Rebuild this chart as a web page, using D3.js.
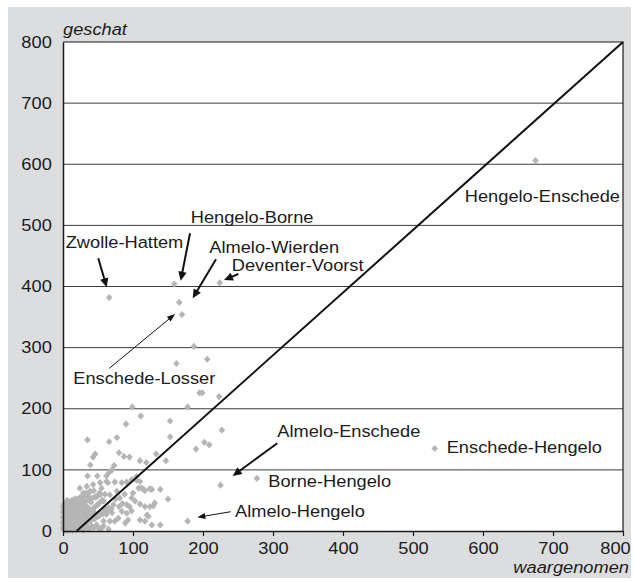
<!DOCTYPE html>
<html>
<head>
<meta charset="utf-8">
<script src="https://cdn.jsdelivr.net/npm/d3@7"></script>
<style>
  body { margin: 0; background: #ffffff; }
  svg { display: block; }
  text { font-family: "Liberation Sans", Arial, Helvetica, sans-serif; fill: #1b1b1b; }
</style>
</head>
<body>
<svg id="chart" width="634" height="581"></svg>
<script>
// Axis ticks (both axes run 0..800)
const xTicks = [0, 100, 200, 300, 400, 500, 600, 700, 800];
const yTicks = [0, 100, 200, 300, 400, 500, 600, 700, 800];

// Route pairs: observed (waargenomen) vs. estimated (geschat)
const observed = [
  187, 162, 206, 195, 199, 223, 178, 99, 111, 153, 90, 227, 153, 35, 66, 77, 202, 209, 190, 80,
  87, 95, 46, 43, 39, 110, 119, 133, 147, 70, 73, 66, 35, 49, 62,
  91, 98, 105, 110, 112, 117, 124, 115, 127, 139, 98, 103, 110, 117, 91, 84, 91, 98, 79, 74,
  89, 93, 124, 122, 110, 117, 127, 150, 131, 129, 139, 120,
  24, 34, 43, 29, 39, 53, 62, 55, 67, 77, 81, 72, 65, 58, 50, 43, 36, 29, 22, 15, 53, 46, 62,
  67, 58, 48, 41, 31, 24,
  64, 74, 84, 105, 108, 100, 88, 60, 47, 38, 30, 52, 75, 85, 95, 70, 80, 60, 55, 65, 35, 45,
  1, 2, 3, 4, 5, 6, 7, 8, 2, 4, 1, 3, 0, 2, 1, 5, 6, 7, 8, 9, 10, 11, 12, 13, 9, 10, 11, 12,
  13, 14, 15, 16, 17, 14, 15, 16, 17, 18, 19, 20, 21, 19, 20, 21, 22, 23, 24, 25, 26, 25, 26,
  27, 28, 30, 31, 32, 33, 3, 7, 11, 4, 10, 18, 27, 35, 40, 0, 0, 0, 0, 6, 22, 28, 32, 36, 38, 34,
  18, 22, 26, 30, 34, 38, 42, 46, 50, 54, 20, 24, 28, 32, 36, 40, 44, 48, 52, 56,
  16, 21, 27, 33, 39, 45, 51, 57, 63, 69, 23, 29, 35, 41, 47, 53, 59,
  12, 17, 23, 28, 33, 38, 44, 30, 37, 44, 51, 58
];
const estimated = [
  302, 274, 281, 226, 226, 220, 203, 203, 188, 180, 175, 165, 154, 149, 146, 153, 145, 141, 134, 128,
  122, 121, 126, 121, 108, 115, 112, 126, 115, 100, 107, 96, 90, 90, 90,
  80, 84, 89, 81, 70, 66, 69, 68, 68, 68, 54, 49, 44, 40, 43, 32, 29, 33, 21, 16,
  13, 18, 40, 24, 18, 16, 10, 52, 46, 41, 10, 26,
  70, 73, 76, 62, 65, 79, 81, 70, 59, 65, 54, 43, 38, 49, 43, 35, 38, 32, 29, 27, 27, 21, 27,
  16, 16, 10, 8, 10, 16,
  79, 80, 79, 83, 70, 62, 60, 60, 55, 52, 45, 62, 52, 45, 40, 30, 40, 35, 5, 3, 20, 30,
  2, 6, 12, 18, 25, 31, 37, 42, 44, 40, 35, 28, 22, 16, 10, 4, 9, 15, 21, 27, 33, 39, 45, 50, 3, 8, 14, 20,
  26, 32, 38, 44, 48, 1, 6, 12, 18, 24, 30, 36, 42, 2, 8, 14, 20, 25, 33, 40, 46, 5, 11,
  17, 22, 28, 36, 42, 50, 1, 1, 2, 47, 48, 52, 55, 58, 47, 5, 14, 30, 40, 50, 3, 2, 15, 25, 4, 8,
  34, 40, 44, 48, 50, 52, 54, 56, 58, 60, 12, 18, 22, 26, 30, 34, 38, 42, 46, 50,
  4, 6, 8, 12, 16, 20, 24, 28, 32, 36, 46, 50, 56, 28, 24, 30, 36,
  40, 52, 54, 58, 62, 64, 66, 2, 3, 5, 4, 8
];

// Named routes
const routeNames = [
  "Hengelo-Enschede", "Enschede-Hengelo", "Zwolle-Hattem", "Hengelo-Borne", "Almelo-Wierden",
  "Deventer-Voorst", "Enschede-Losser", "Almelo-Enschede", "Borne-Hengelo", "Almelo-Hengelo"
];
const routeObserved  = [675, 531, 66, 159, 166, 224, 170, 225, 277, 178];
const routeEstimated = [606, 135, 382, 404, 374, 406, 354, 75, 86, 16];

// Fitted line endpoints (data units)
const fitObserved  = [19.5, 800];
const fitEstimated = [0, 800];

// ---------------------------------------------------------------
const svg = d3.select("#chart");
const FS = 16.3;      // font size
const SX = 1.12;      // horizontal text stretch

const x = d3.scaleLinear().domain([0, 800]).range([63, 623]);
const y = d3.scaleLinear().domain([0, 800]).range([531, 42]);

// panel backgrounds
svg.append("rect").attr("x", 8).attr("y", 7).attr("width", 623).attr("height", 571).attr("fill", "#dcdddf");
svg.append("rect").attr("x", x(0)).attr("y", y(800)).attr("width", x(800) - x(0)).attr("height", y(0) - y(800)).attr("fill", "#ffffff");

// horizontal gridlines
svg.append("g").selectAll("line")
  .data(yTicks.filter(v => v > 0 && v < 800))
  .join("line")
  .attr("x1", x(0)).attr("x2", x(800))
  .attr("y1", d => y(d)).attr("y2", d => y(d))
  .attr("stroke", "#3c3c3c").attr("stroke-width", 1);

// top and right frame
svg.append("path")
  .attr("d", `M${x(0)},${y(800)}H${x(800)}V${y(0)}`)
  .attr("fill", "none").attr("stroke", "#1a1a1a").attr("stroke-width", 1.2);

// helper: stretched text
function label(g, px, py, txt, anchor, italic) {
  return g.append("text")
    .attr("transform", `translate(${px},${py}) scale(${SX},1)`)
    .attr("text-anchor", anchor || "start")
    .attr("font-size", FS)
    .attr("font-style", italic ? "italic" : "normal")
    .text(txt);
}

// points
const diamond = "M0,-3.6L3.3,0L0,3.6L-3.3,0Z";
const pts = observed.map((o, i) => ({ o, e: estimated[i] }));
svg.append("g").selectAll("path")
  .data(pts)
  .join("path")
  .attr("d", diamond)
  .attr("transform", d => `translate(${x(d.o)},${y(d.e)})`)
  .attr("fill", "#b5b5b5");

const routes = routeNames.map((n, i) => ({ name: n, o: routeObserved[i], e: routeEstimated[i] }));
svg.append("g").selectAll("path")
  .data(routes)
  .join("path")
  .attr("d", diamond)
  .attr("transform", d => `translate(${x(d.o)},${y(d.e)})`)
  .attr("fill", "#b5b5b5");

// fitted line
svg.append("line")
  .attr("x1", x(fitObserved[0])).attr("y1", y(fitEstimated[0]))
  .attr("x2", x(fitObserved[1])).attr("y2", y(fitEstimated[1]))
  .attr("stroke", "#111").attr("stroke-width", 2);

// axes
const xAxis = svg.append("g")
  .attr("transform", `translate(0,${y(0)})`)
  .call(d3.axisBottom(x).tickValues(xTicks).tickSize(5).tickSizeOuter(0).tickPadding(6));
const yAxis = svg.append("g")
  .attr("transform", `translate(${x(0)},0)`)
  .call(d3.axisLeft(y).tickValues(yTicks).tickSize(0).tickSizeOuter(0).tickPadding(10));
[xAxis, yAxis].forEach(a => {
  a.select(".domain").attr("stroke", "#1a1a1a").attr("stroke-width", 1.5);
  a.selectAll(".tick line").attr("stroke", "#1a1a1a").attr("stroke-width", 1.2);
  a.selectAll(".tick text")
    .attr("font-size", FS)
    .attr("font-family", "'Liberation Sans', Arial, Helvetica, sans-serif")
    .attr("fill", "#1b1b1b")
    .attr("transform", `scale(${SX},1)`);
});
// last x label sits inside the panel edge
xAxis.selectAll(".tick text").attr("x", d => d === 800 ? -8 / SX : 0);

// axis titles
label(svg, x(0), 35, "geschat", "start", true);
label(svg, 629, 573, "waargenomen", "end", true);

// annotations: label offset, arrow start/end offsets (px, relative to the point)
const notes = {
  "Hengelo-Enschede": { lx: 84.5, ly: 41.1, anchor: "end" },
  "Enschede-Hengelo": { lx: 12, ly: 4.2 },
  "Zwolle-Hattem":    { lx: -43.5, ly: -49.2, a: [-10.9, -39.2, -2.5, -10.2], w: 2 },
  "Hengelo-Borne":    { lx: 16.4, ly: -61.4, a: [15.7, -50.8, 6.4, -3.4], w: 2 },
  "Almelo-Wierden":   { lx: 30.1, ly: -49.1, a: [36.8, -43.1, 13.5, -4.1], w: 2 },
  "Deventer-Voorst":  { lx: 11.9, ly: -12.1, a: [18.5, -8.8, 4.2, -2.8], w: 2 },
  "Enschede-Losser":  { lx: -108.7, ly: 69.7, a: [-72.7, 53.7, -7, -0.6], w: 1 },
  "Almelo-Enschede":  { lx: 56.8, ly: -48.5, a: [56.8, -41.9, 12.2, -9.2], w: 2 },
  "Borne-Hengelo":    { lx: 11.4, ly: 8.9 },
  "Almelo-Hengelo":   { lx: 47.4, ly: -3.9, a: [43.1, -9.5, 9.7, -3.9], w: 1 }
};

const ann = svg.append("g");
routes.forEach(r => {
  const n = notes[r.name];
  const px = x(r.o), py = y(r.e);
  label(ann, px + n.lx, py + n.ly, r.name, n.anchor || "start", false);
  if (n.a) {
    const x1 = px + n.a[0], y1 = py + n.a[1];
    const x2 = px + n.a[2], y2 = py + n.a[3];
    const dx = x2 - x1, dy = y2 - y1, len = Math.hypot(dx, dy);
    const ux = dx / len, uy = dy / len;
    const hl = n.w > 1 ? 9 : 8, hw = n.w > 1 ? 4.2 : 3;
    ann.append("line")
      .attr("x1", x1).attr("y1", y1)
      .attr("x2", x2 - ux * (hl - 2)).attr("y2", y2 - uy * (hl - 2))
      .attr("stroke", "#111").attr("stroke-width", n.w);
    const bx = x2 - ux * hl, by = y2 - uy * hl;
    ann.append("path")
      .attr("d", `M${x2},${y2}L${bx - uy * hw},${by + ux * hw}L${bx + uy * hw},${by - ux * hw}Z`)
      .attr("fill", "#111");
  }
});
</script>
</body>
</html>
